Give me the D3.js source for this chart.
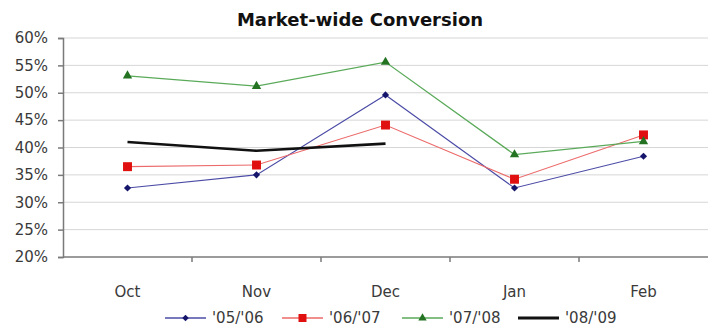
<!DOCTYPE html>
<html>
<head>
<meta charset="utf-8">
<script src="https://cdn.jsdelivr.net/npm/d3@7"></script>
<style>
  body { margin: 0; background: #fff; }
  svg { display: block; font-family: "DejaVu Sans", sans-serif; }
</style>
</head>
<body>
<script>
(function () {

    // chart data
    var months = ["Oct", "Nov", "Dec", "Jan", "Feb"];
    var seasons = ["'05/'06", "'06/'07", "'07/'08", "'08/'09"];
    var s0506 = [32.6, 35.0, 49.6, 32.6, 38.4];
    var s0607 = [36.5, 36.8, 44.1, 34.2, 42.3];
    var s0708 = [53.1, 51.2, 55.6, 38.7, 41.1];
    var s0809 = [41.0, 39.4, 40.7];
    var yTicks = [20, 25, 30, 35, 40, 45, 50, 55, 60];

    var width = 709, height = 326;
    var margin = { top: 38, right: 1, bottom: 69, left: 63 };

    var svg = d3.select("body").append("svg")
        .attr("width", width)
        .attr("height", height);

    var x = d3.scaleBand()
        .domain(months)
        .range([margin.left, width - margin.right]);

    var y = d3.scaleLinear()
        .domain([20, 60])
        .range([height - margin.bottom, margin.top]);

    function cx(m) { return x(m) + x.bandwidth() / 2; }

    // title
    svg.append("text")
        .attr("x", 360)
        .attr("y", 26)
        .attr("text-anchor", "middle")
        .style("font-weight", "bold")
        .style("font-size", "18px")
        .attr("fill", "#111")
        .text("Market-wide Conversion");

    // horizontal grid
    svg.append("g")
        .selectAll("line")
        .data(yTicks.slice(1))
        .enter()
        .append("line")
        .attr("x1", margin.left)
        .attr("x2", width - margin.right)
        .attr("y1", function (d) { return y(d); })
        .attr("y2", function (d) { return y(d); })
        .attr("stroke", "#d6d6d6")
        .attr("stroke-width", 1);

    // y axis
    var yAxis = svg.append("g")
        .attr("transform", "translate(" + margin.left + ",0)")
        .call(d3.axisLeft(y)
            .tickValues(yTicks)
            .tickSize(5)
            .tickPadding(10)
            .tickFormat(function (d) { return d + "%"; }));
    yAxis.select(".domain").attr("stroke", "#7a7a7a").attr("stroke-width", 1.5);
    yAxis.selectAll(".tick line").attr("stroke", "#7a7a7a").attr("stroke-width", 1.5);
    yAxis.selectAll("text")
        .style("font-size", "15px")
        .style("font-family", "DejaVu Sans, sans-serif")
        .attr("fill", "#3a3a3a");

    // x axis: tick marks sit between the categories
    var xAxis = svg.append("g")
        .attr("transform", "translate(0," + (height - margin.bottom) + ")");
    xAxis.append("line")
        .attr("x1", margin.left)
        .attr("x2", width - margin.right)
        .attr("stroke", "#7a7a7a")
        .attr("stroke-width", 1.5);
    xAxis.selectAll(".xtick")
        .data(months.slice(0, -1))
        .enter()
        .append("line")
        .attr("class", "xtick")
        .attr("x1", function (d) { return x(d) + x.bandwidth(); })
        .attr("x2", function (d) { return x(d) + x.bandwidth(); })
        .attr("y1", 0)
        .attr("y2", 5)
        .attr("stroke", "#7a7a7a")
        .attr("stroke-width", 1.5);
    xAxis.selectAll(".xlabel")
        .data(months)
        .enter()
        .append("text")
        .attr("class", "xlabel")
        .attr("x", cx)
        .attr("y", 40)
        .attr("text-anchor", "middle")
        .style("font-size", "15px")
        .attr("fill", "#3a3a3a")
        .text(function (d) { return d; });

    // diamond = square turned by 45 degrees
    var series = [
        { name: seasons[0], values: s0506, line: "#4b4ba6", mark: "#15156b", width: 1.1, shape: d3.symbolSquare, size: 26, rot: 45 },
        { name: seasons[1], values: s0607, line: "#ec6a6a", mark: "#e01010", width: 1.1, shape: d3.symbolSquare, size: 80, rot: 0 },
        { name: seasons[2], values: s0708, line: "#5aaa5a", mark: "#237323", width: 1.3, shape: d3.symbolTriangle, size: 38, rot: 0 },
        { name: seasons[3], values: s0809, line: "#111111", mark: null, width: 2.6, shape: null, size: 0, rot: 0 }
    ];

    var line = d3.line()
        .x(function (d, i) { return cx(months[i]); })
        .y(function (d) { return y(d); });

    series.forEach(function (s) {
        var g = svg.append("g");
        g.append("path")
            .datum(s.values)
            .attr("d", line)
            .attr("fill", "none")
            .attr("stroke", s.line)
            .attr("stroke-width", s.width);
        if (s.shape) {
            g.selectAll("path.pt")
                .data(s.values)
                .enter()
                .append("path")
                .attr("class", "pt")
                .attr("transform", function (d, i) {
                    return "translate(" + cx(months[i]) + "," + y(d) + ") rotate(" + s.rot + ")";
                })
                .attr("d", d3.symbol().type(s.shape).size(s.size))
                .attr("fill", s.mark);
        }
    });

    // legend
    var legend = svg.append("g").attr("transform", "translate(165,318)");
    var step = [0, 117, 237, 353];
    series.forEach(function (s, i) {
        var item = legend.append("g").attr("transform", "translate(" + step[i] + ",0)");
        item.append("line")
            .attr("x1", 0).attr("x2", 41)
            .attr("stroke", s.line)
            .attr("stroke-width", s.width + 0.4);
        if (s.shape) {
            item.append("path")
                .attr("transform", "translate(20.5,0) rotate(" + s.rot + ")")
                .attr("d", d3.symbol().type(s.shape).size(s.size * 0.8))
                .attr("fill", s.mark);
        }
        item.append("text")
            .attr("x", 47)
            .attr("dy", "0.35em")
            .style("font-size", "15px")
            .attr("fill", "#3a3a3a")
            .text(s.name);
    });

})();
</script>
</body>
</html>
